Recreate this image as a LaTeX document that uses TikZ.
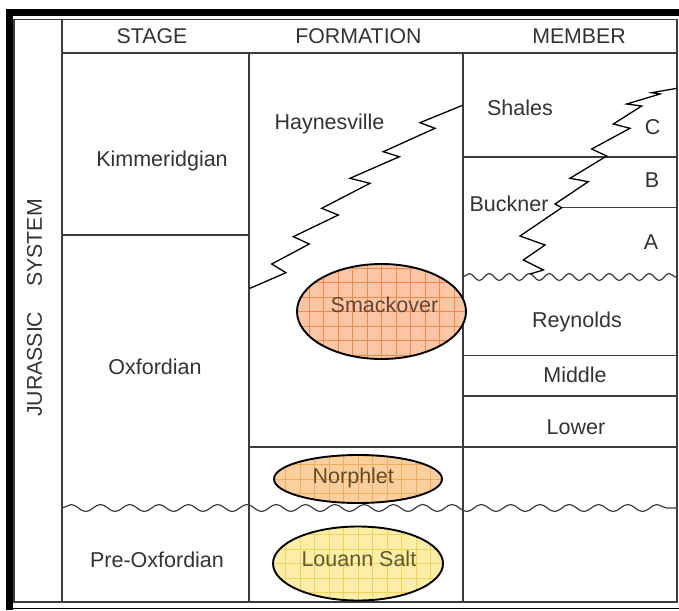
\documentclass[tikz,border=0pt]{standalone}
\usepackage{fontspec}
\setmainfont{Liberation Sans}
\usepackage{tikz}
\usetikzlibrary{shapes.geometric, decorations.pathmorphing}
\definecolor{ink}{HTML}{333333}
\definecolor{rulegray}{HTML}{3C3C3C}
\definecolor{smkfill}{HTML}{FAC6A6}
\definecolor{smkgrid}{HTML}{F08A48}
\definecolor{smktext}{HTML}{654536}
\definecolor{norfill}{HTML}{FCD09E}
\definecolor{norgrid}{HTML}{F0AE5A}
\definecolor{nortext}{HTML}{654A26}
\definecolor{saltfill}{HTML}{FEEEA8}
\definecolor{saltgrid}{HTML}{F3D25A}
\definecolor{salttext}{HTML}{62592E}
\tikzset{
  rule/.style     = {draw=rulegray, line width=1.2pt},
  hdr/.style      = {anchor=base, inner sep=0pt, text=ink,
                     font=\fontsize{21.3}{25}\selectfont},
  lbl/.style      = {anchor=base, inner sep=0pt, text=ink,
                     font=\fontsize{21.5}{25}\selectfont},
  unit/.style     = {ellipse, draw=black, line width=1.9pt, inner sep=0pt},
  gridfill/.style 2 args = {fill=#1, path picture={
                     \draw[#2, line width=0.5pt]
                       (path picture bounding box.south west) grid[step=14.5pt]
                       (path picture bounding box.north east);}},
  tongue/.style   = {draw=black, line width=1.3pt, line join=miter},
  wave/.style     = {draw=rulegray, line width=1.2pt, decorate,
                     decoration={snake, segment length=29.3pt, amplitude=3.5pt}},
}

\begin{document}
\begin{tikzpicture}[x=1pt, y=-1pt]
  \useasboundingbox (0,0) rectangle (679,610);

  % frame
  \fill[black] (6,9) rectangle (679,16);
  \fill[black] (6,9) rectangle (13,610);
  \draw[black, line width=1.6pt] (13,608.5) -- (679,608.5);
  \draw[rule] (14,19.5) rectangle (677,602);

  % table rules
  \draw[rule] (62,19.5) -- (62,602);
  \draw[rule] (62,53) -- (677,53);
  \draw[rule] (249,53) -- (249,602);
  \draw[rule] (463,53) -- (463,602);
  \draw[rule] (62,235) -- (249,235);
  \draw[rule] (463,157) -- (677,157);
  \draw[rule] (561.7,207.7) -- (677,207.7);
  \draw[rule] (463,355.5) -- (677,355.5);
  \draw[rule] (463,396) -- (677,396);
  \draw[rule] (249,447) -- (677,447);

  % unconformities
  \draw[wave] (62,508) -- (677,508);
  \draw[wave, decoration={segment length=20pt}] (463,277) -- (677,277);

  % intertonguing contacts
  \draw[tongue] (250,288.3) -- (286,272.7) -- (271.7,264) -- (309.3,244)
    -- (293.3,236.7) -- (338.3,215) -- (321.7,208.3) -- (370,183.3)
    -- (350,178.3) -- (399.3,156.7) -- (383.3,151.7) -- (435,128.3)
    -- (420,122.7) -- (463.3,105);
  \draw[tongue] (530,274) -- (543.3,270) -- (523.3,260) -- (545,245)
    -- (520,236) -- (561.7,207.7) -- (555,204) -- (588.3,181.7)
    -- (570,178.3) -- (606.7,156) -- (591.7,149) -- (630,128.3)
    -- (613.3,124) -- (641.7,106) -- (626.7,104) -- (660,94)
    -- (651.7,92.7) -- (677,88.3);

  % reservoir units
  \node[unit, gridfill={smkfill}{smkgrid}, minimum width=169pt, minimum height=95pt]
    (smk) at (381.5,311.5) {};
  \node[unit, gridfill={norfill}{norgrid}, minimum width=168pt, minimum height=48pt]
    (nor) at (358,479) {};
  \node[unit, gridfill={saltfill}{saltgrid}, minimum width=170pt, minimum height=74pt]
    (salt) at (358,563.5) {};

  % headers
  \node[hdr] (stage)  at (152,44)   {STAGE};
  \node[hdr] (form)   at (358.5,44) {FORMATION};
  \node[hdr] (member) at (579,44)   {MEMBER};
  \node[hdr, anchor=center, rotate=90] (sys) at (34.5,308)
    {JURASSIC\hspace{25pt}SYSTEM};

  % stages
  \node[lbl] (kim)  at (162,166) {Kimmeridgian};
  \node[lbl] (oxf)  at (155,374) {Oxfordian};
  \node[lbl] (poxf) at (157,567) {Pre-Oxfordian};

  % formations
  \node[lbl] (hay) at (329.5,129) {Haynesville};
  \node[lbl, text=smktext]  (smklbl)  at (384.5,312.5) {Smackover};
  \node[lbl, text=nortext]  (norlbl)  at (353.3,483)   {Norphlet};
  \node[lbl, text=salttext] (saltlbl) at (358.9,566.5) {Louann Salt};

  % members
  \node[lbl] (sha) at (520,115)   {Shales};
  \node[lbl] (mc)  at (652.7,134) {C};
  \node[lbl] (mb)  at (652,187)   {B};
  \node[lbl] (ma)  at (651,249)   {A};
  \node[lbl] (buc) at (509,211)   {Buckner};
  \node[lbl] (rey) at (577,327)   {Reynolds};
  \node[lbl] (mid) at (575,382)   {Middle};
  \node[lbl] (low) at (576,434)   {Lower};
\end{tikzpicture}
\end{document}
